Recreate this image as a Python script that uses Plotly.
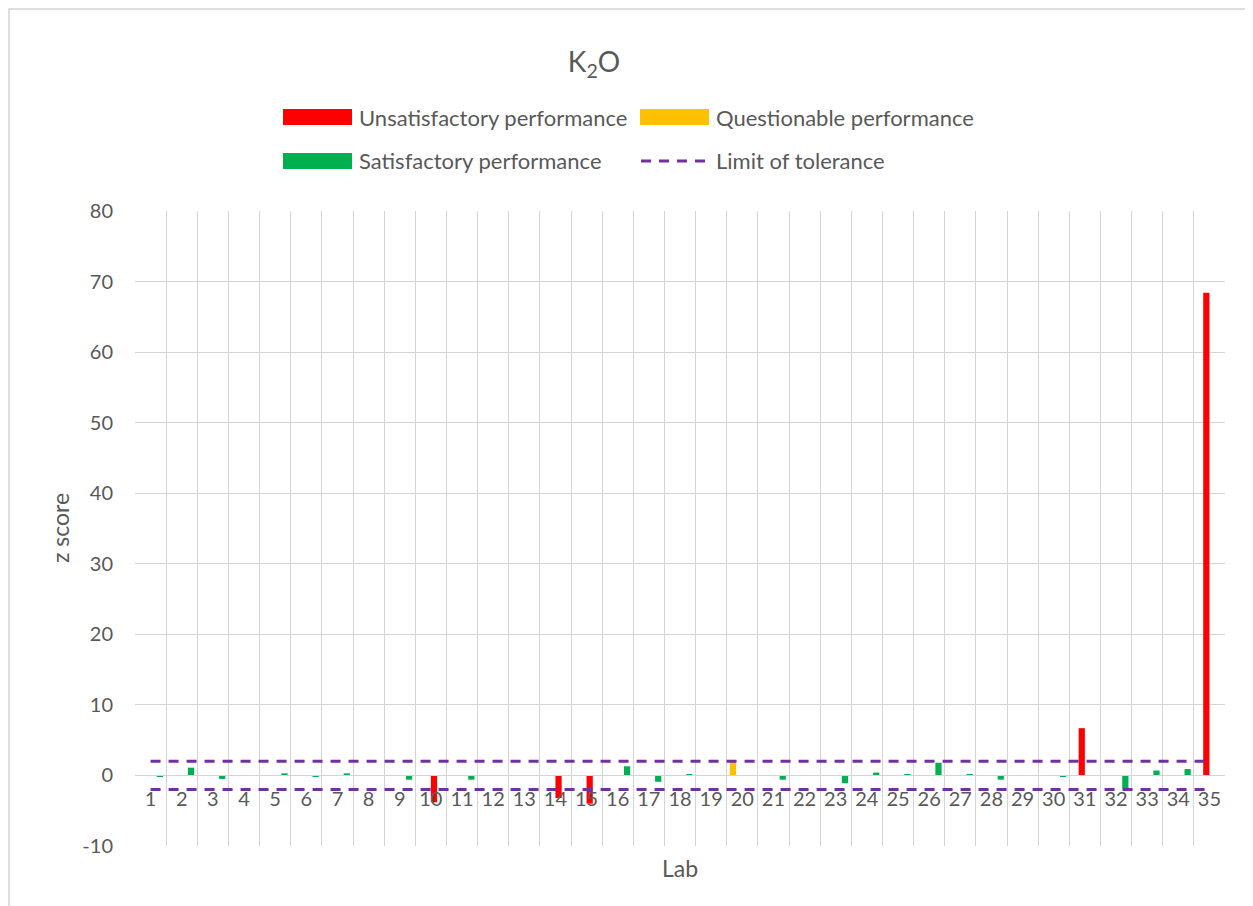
import plotly.graph_objects as go

# ---------------- data ----------------
labs = [str(i) for i in range(1, 36)]

# Unsatisfactory performance (|z| >= 3), positive side
unsat_high = [None, None, None, None, None, None, None, None, None, None,
              None, None, None, None, None, None, None, None, None, None,
              None, None, None, None, None, None, None, None, None, None,
              6.7, None, None, None, 68.4]
# Unsatisfactory performance (|z| >= 3), negative side
unsat_low = [None, None, None, None, None, None, None, None, None, -3.8,
             None, None, None, -3.2, -4.0, None, None, None, None, None,
             None, None, None, None, None, None, None, None, None, None,
             None, None, None, None, None]
# Questionable performance (2 < |z| < 3)
questionable = [None, None, None, None, None, None, None, None, None, None,
                None, None, None, None, None, None, None, None, None, 2.2,
                None, None, None, None, None, None, None, None, None, None,
                None, None, None, None, None]
# Satisfactory performance (|z| <= 2)
satisfactory = [-0.2, 1.1, -0.5, None, 0.3, -0.2, 0.3, None, -0.6, None,
                -0.6, None, None, None, None, 1.3, -0.9, 0.2, None, None,
                -0.6, None, -1.1, 0.4, 0.1, 1.8, 0.1, -0.6, None, -0.2,
                None, -1.9, 0.7, 0.9, None]

tolerance = 2
upper_limit = [tolerance] * len(labs)
lower_limit = [-tolerance] * len(labs)

y_ticks = [-10, 0, 10, 20, 30, 40, 50, 60, 70, 80]
y_tick_text = ["-10", "0", "10", "20", "30", "40", "50", "60", "70", "80"]

# ---------------- style ----------------
RED = "#FF0000"
ORANGE = "#FFC000"
GREEN = "#00B050"
PURPLE = "#7030A0"
GRID = "#D4D4D4"
TXT = "#595959"
FONT = "Lato"

OFF = 8                      # page body margin offset
W, H = 1253 - OFF, 906 - OFF
PLOT_L, PLOT_R, PLOT_T, PLOT_B = 135, 1225, 211, 846   # in reference pixels
L, R, T, B = PLOT_L - OFF, W - (PLOT_R - OFF), PLOT_T - OFF, H - (PLOT_B - OFF)
PW = PLOT_R - PLOT_L
PH = PLOT_B - PLOT_T


def px(x):
    return (x - PLOT_L) / PW


def py(y):
    return (PLOT_B - y) / PH


fig = go.Figure()
for vals, col in [(questionable, ORANGE), (unsat_high, RED),
                  (unsat_low, RED), (satisfactory, GREEN)]:
    fig.add_trace(go.Bar(x=labs, y=vals, marker=dict(color=col, line=dict(width=0)),
                         showlegend=False, hoverinfo="x+y"))

for vals in (upper_limit, lower_limit):
    fig.add_trace(go.Scatter(x=labs, y=vals, mode="lines",
                             line=dict(color=PURPLE, width=3, dash="10px,8px"),
                             showlegend=False))

# ------------- manual legend -------------
shapes = []
annotations = []
legend_items = [
    ("Unsatisfactory performance", RED, "bar", 283, 117),
    ("Questionable performance", ORANGE, "bar", 640, 117),
    ("Satisfactory performance", GREEN, "bar", 283, 161),
    ("Limit of tolerance", PURPLE, "line", 640, 161),
]
for text, col, kind, x0, yc in legend_items:
    if kind == "bar":
        shapes.append(dict(type="rect", xref="paper", yref="paper",
                           x0=px(x0), x1=px(x0 + 69), y0=py(yc - 8), y1=py(yc + 8),
                           fillcolor=col, line=dict(width=0)))
    else:
        shapes.append(dict(type="line", xref="paper", yref="paper",
                           x0=px(x0 + 1), x1=px(x0 + 69), y0=py(yc), y1=py(yc),
                           line=dict(color=col, width=3, dash="10px,8px")))
    annotations.append(dict(text=text, xref="paper", yref="paper",
                            x=px(x0 + 74), y=py(yc), xanchor="left", yanchor="middle",
                            showarrow=False, font=dict(family=FONT, size=22, color=TXT)))

# chart border (left edge as close to the page edge as the figure allows)
shapes.append(dict(type="rect", xref="paper", yref="paper",
                   x0=px(OFF + 1), x1=px(1280), y0=py(9), y1=py(940),
                   line=dict(color=GRID, width=1.5), fillcolor="rgba(0,0,0,0)", layer="below"))

# axis titles
annotations.append(dict(text="Lab", xref="paper", yref="paper", x=px(680), y=py(868),
                        xanchor="center", yanchor="middle", showarrow=False,
                        font=dict(family=FONT, size=23, color=TXT)))
annotations.append(dict(text="z score", xref="paper", yref="paper", x=px(60), y=py(528),
                        xanchor="center", yanchor="middle", showarrow=False, textangle=-90,
                        font=dict(family=FONT, size=23, color=TXT)))

zero_pos = (0 - y_ticks[0]) / (y_ticks[-1] - y_ticks[0])

fig.update_layout(
    width=W, height=H,
    margin=dict(l=L, r=R, t=T, b=B, pad=0),
    paper_bgcolor="white", plot_bgcolor="white",
    barmode="group", bargap=0.2, bargroupgap=0,
    title=dict(text="K<sub>2</sub>O", x=(594 - OFF) / W, y=1 - (62 - OFF) / H,
               xanchor="center", yanchor="middle",
               font=dict(family=FONT, size=28, color=TXT)),
    font=dict(family=FONT, color=TXT),
    shapes=shapes, annotations=annotations,
    xaxis=dict(type="category", anchor="free", position=zero_pos,
               tickson="boundaries", showgrid=True, gridcolor=GRID, gridwidth=1,
               showline=True, linecolor=GRID, linewidth=1, ticks="", tickangle=0,
               ticklabelstandoff=6, tickfont=dict(family=FONT, size=20, color=TXT),
               mirror=False),
    yaxis=dict(range=[y_ticks[0], y_ticks[-1]], tickvals=y_ticks, ticktext=y_tick_text,
               showgrid=True, gridcolor=GRID, gridwidth=1, zeroline=True,
               zerolinecolor=GRID, zerolinewidth=1, ticks="", ticklabelstandoff=21,
               tickfont=dict(family=FONT, size=20, color=TXT)),
)

fig.write_html("out.html")
